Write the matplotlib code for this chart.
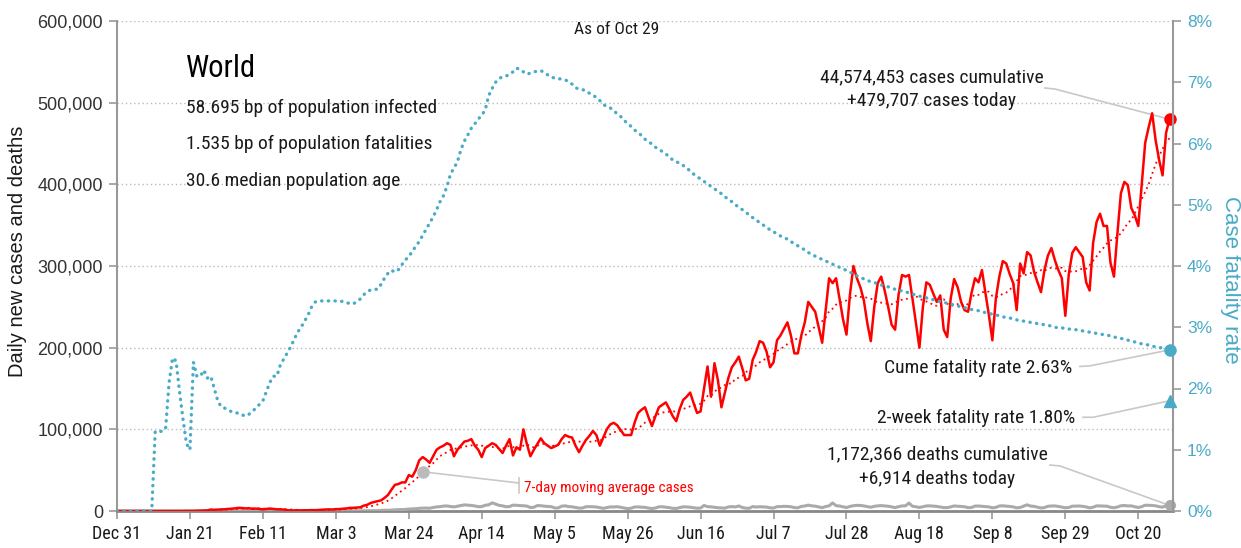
import numpy as np
import pandas as pd
import matplotlib
matplotlib.use('Agg')
import matplotlib.pyplot as plt
from matplotlib import font_manager

# daily new cases, thousands, one row per week starting Dec 31 2019
cases_k = [
    0.027, 0, 0, 0.017, 0, 0.015, 0,
    0, 0, 0, 0, 0.001, 0, 0.001,
    0, 0.005, 0.004, 0.017, 0.136, 0.019, 0.151,
    0.14, 0.097, 0.259, 0.457, 0.688, 0.769, 1.771,
    1.459, 1.737, 1.982, 2.102, 2.59, 2.829, 3.235,
    3.884, 3.694, 3.143, 3.385, 2.652, 2.973, 2.467,
    2.015, 2.5, 3.0, 2.6, 2.1, 2.0, 1.8,
    1.0, 0.6, 0.8, 0.9, 0.6, 0.9, 0.9,
    1.1, 1.0, 1.3, 1.5, 1.8, 2.0, 1.8,
    2.3, 2.4, 2.7, 3.1, 3.8, 3.9, 4.2,
    4.5, 6.5, 7.5, 9.8, 11, 12, 13,
    16, 19.6, 26, 32, 33, 35, 35,
    44, 42, 50, 62, 66, 63, 59,
    67, 75, 78, 80, 83, 81, 67,
    75, 80, 85, 86, 88, 80, 75,
    66, 77, 80, 83, 81, 76, 71,
    80, 88, 68, 78, 75, 100, 82,
    67, 75, 82, 89, 83, 80, 77,
    79, 81, 88, 93, 91, 90, 80,
    72, 80, 87, 92, 98, 93, 80,
    90, 100, 106, 108, 105, 99, 93,
    93, 93, 108, 120, 124, 127, 115,
    104, 116, 127, 130, 133, 125, 116,
    110, 125, 136, 140, 145, 132, 120,
    122, 150, 177, 140, 181, 160, 127,
    145, 163, 176, 182, 189, 175, 160,
    162, 185, 195, 208, 206, 195, 176,
    182, 209, 215, 223, 231, 215, 193,
    193, 215, 231, 256, 250, 244, 225,
    206, 245, 285, 279, 285, 260, 235,
    216, 265, 300, 285, 274, 258, 230,
    208, 250, 279, 287, 270, 250, 228,
    222, 265, 289, 287, 289, 260, 230,
    200, 250, 280, 277, 266, 256, 264,
    222, 213, 260, 284, 274, 256, 246,
    244, 267, 285, 280, 295, 267, 240,
    209, 260, 287, 306, 303, 290, 279,
    246, 303, 291, 317, 313, 293, 280,
    268, 295, 313, 322, 307, 295, 285,
    239, 290, 316, 323, 317, 311, 280,
    270, 328, 354, 364, 349, 349, 304,
    287, 340, 389, 403, 399, 371, 362,
    349, 400, 451, 470, 487, 454, 430,
    411, 463, 479.707,
]

# daily new deaths, thousands
deaths_k = [
    0, 0, 0, 0, 0, 0, 0,
    0, 0, 0, 0, 0.001, 0, 0,
    0, 0, 0.001, 0, 0.001, 0, 0.003,
    0.003, 0.008, 0.016, 0.015, 0.015, 0.024, 0.026,
    0.026, 0.038, 0.043, 0.046, 0.045, 0.057, 0.064,
    0.066, 0.073, 0.073, 0.086, 0.089, 0.097, 0.108,
    0.097, 0.254, 0.143, 0.142, 0.106, 0.098, 0.139,
    0.115, 0.118, 0.109, 0.097, 0.15, 0.071, 0.052,
    0.029, 0.044, 0.037, 0.035, 0.058, 0.067, 0.072,
    0.066, 0.07, 0.087, 0.1, 0.102, 0.097, 0.227,
    0.247, 0.322, 0.325, 0.35, 0.45, 0.41, 0.75,
    0.92, 0.85, 1.1, 1.3, 1.65, 1.7, 1.9,
    2.4, 2.6, 2.8, 3.3, 3.5, 3.6, 3.4,
    4.3, 5.0, 5.3, 6.0, 6.2, 5.5, 5.0,
    5.8, 6.5, 7.5, 7.2, 6.8, 6.2, 5.3,
    5.4, 7.0, 7.6, 10.0, 8.4, 6.9, 6.3,
    5.2, 5.5, 7.2, 7.0, 6.6, 6.4, 6.0,
    4.2, 4.6, 6.6, 6.5, 5.9, 5.6, 5.3,
    3.8, 3.7, 5.9, 6.3, 5.4, 5.1, 4.3,
    3.6, 3.7, 5.2, 5.3, 5.2, 4.9, 4.1,
    3.3, 4.2, 5.0, 4.9, 5.3, 4.5, 3.6,
    2.9, 3.4, 4.9, 5.0, 4.7, 4.4, 3.6,
    3.0, 3.7, 5.1, 5.2, 4.7, 4.1, 3.3,
    3.1, 4.2, 5.1, 5.0, 4.6, 4.0, 3.4,
    3.6, 6.8, 5.3, 5.1, 4.5, 4.0, 3.7,
    3.5, 5.0, 5.4, 4.9, 6.2, 4.3, 3.5,
    3.3, 5.4, 4.9, 5.2, 5.0, 4.8, 3.9,
    3.6, 5.3, 5.4, 5.7, 5.6, 5.2, 4.1,
    3.9, 5.6, 6.1, 7.2, 6.3, 5.9, 5.0,
    4.1, 5.4, 6.3, 9.9, 6.5, 6.1, 5.2,
    4.2, 5.6, 6.5, 6.9, 6.8, 6.2, 5.4,
    4.6, 5.7, 6.3, 6.6, 6.2, 5.8, 5.1,
    4.1, 5.3, 6.2, 6.4, 9.7, 5.8, 5.2,
    4.3, 5.2, 6.2, 6.3, 6.0, 5.6, 4.9,
    4.2, 4.1, 5.0, 6.2, 5.8, 5.6, 5.2,
    4.1, 4.3, 6.0, 6.1, 5.8, 5.4, 5.0,
    3.9, 4.4, 6.1, 6.4, 5.9, 5.6, 5.0,
    3.9, 4.3, 6.0, 7.6, 6.0, 5.7, 4.6,
    3.7, 4.2, 5.8, 6.1, 6.2, 5.6, 4.8,
    3.9, 4.3, 5.9, 6.0, 6.1, 5.7, 5.0,
    3.8, 4.6, 6.3, 6.2, 6.1, 5.9, 4.5,
    4.0, 4.9, 6.4, 6.7, 6.2, 6.3, 5.2,
    4.3, 5.3, 7.1, 6.9, 6.8, 6.3, 5.3,
    4.7, 6.6, 6.914,
]

# cumulative case fatality rate, percent
cfr_pct = [
    0, 0, 0, 0, 0, 0, 0,
    0, 0, 0, 0, 1.3, 1.3, 1.3,
    1.35, 2.1, 2.5, 2.45, 1.95, 1.5, 1.1,
    1.0, 2.43, 2.2, 2.2, 2.3, 2.17, 2.2,
    2.0, 1.8, 1.7, 1.68, 1.65, 1.62, 1.6,
    1.6, 1.57, 1.55, 1.58, 1.63, 1.68, 1.74,
    1.8, 1.95, 2.1, 2.2, 2.2, 2.38, 2.48,
    2.58, 2.68, 2.8, 2.92, 3.0, 3.1, 3.2,
    3.33, 3.41, 3.43, 3.43, 3.43, 3.43, 3.43,
    3.43, 3.43, 3.42, 3.4, 3.39, 3.38, 3.42,
    3.46, 3.53, 3.58, 3.61, 3.62, 3.62, 3.7,
    3.8, 3.88, 3.93, 3.9, 3.94, 4.02, 4.1,
    4.15, 4.24, 4.32, 4.4, 4.5, 4.6, 4.7,
    4.8, 4.92, 5.05, 5.15, 5.3, 5.5, 5.6,
    5.7, 5.9, 6.04, 6.14, 6.25, 6.32, 6.4,
    6.46, 6.55, 6.78, 6.9, 7.0, 7.06, 7.09,
    7.1, 7.13, 7.17, 7.23, 7.21, 7.17, 7.13,
    7.15, 7.17, 7.18, 7.19, 7.16, 7.12, 7.08,
    7.07, 7.06, 7.05, 7.04, 7.01, 6.97, 6.91,
    6.89, 6.88, 6.86, 6.82, 6.79, 6.75, 6.7,
    6.64, 6.6, 6.58, 6.54, 6.48, 6.44, 6.38,
    6.32, 6.28, 6.22, 6.18, 6.13, 6.07, 6.03,
    5.99, 5.94, 5.9, 5.87, 5.83, 5.78, 5.73,
    5.7, 5.68, 5.64, 5.6, 5.55, 5.5, 5.46,
    5.42, 5.38, 5.34, 5.3, 5.26, 5.22, 5.18,
    5.13, 5.09, 5.05, 5.0, 4.96, 4.92, 4.88,
    4.83, 4.79, 4.75, 4.71, 4.67, 4.63, 4.59,
    4.56, 4.52, 4.49, 4.46, 4.44, 4.4, 4.36,
    4.33, 4.3, 4.26, 4.22, 4.19, 4.16, 4.13,
    4.11, 4.08, 4.06, 4.03, 4.0, 3.98, 3.95,
    3.93, 3.9, 3.87, 3.84, 3.81, 3.79, 3.77,
    3.74, 3.73, 3.71, 3.69, 3.67, 3.66, 3.64,
    3.62, 3.61, 3.59, 3.58, 3.56, 3.54, 3.53,
    3.51, 3.49, 3.48, 3.46, 3.45, 3.43, 3.42,
    3.41, 3.39, 3.38, 3.36, 3.35, 3.33, 3.32,
    3.31, 3.29, 3.28, 3.27, 3.25, 3.24, 3.23,
    3.21, 3.2, 3.19, 3.17, 3.16, 3.15, 3.14,
    3.12, 3.11, 3.1, 3.09, 3.08, 3.07, 3.06,
    3.05, 3.04, 3.03, 3.02, 3.0, 2.99, 2.99,
    2.98, 2.97, 2.97, 2.96, 2.95, 2.94, 2.93,
    2.92, 2.91, 2.9, 2.89, 2.88, 2.87, 2.86,
    2.84, 2.83, 2.82, 2.8, 2.79, 2.77, 2.76,
    2.74, 2.73, 2.72, 2.71, 2.69, 2.68, 2.67,
    2.66, 2.64, 2.63,
]

two_week_cfr = 1.80
cases_cumulative = 44574453
deaths_cumulative = 1172366
tick_days = [0, 21, 42, 63, 84, 105, 126, 147, 168, 189, 210, 231, 252, 273, 294]
start_date = pd.Timestamp('2019-12-31')

title = "World"
stats = ["58.695 bp of population infected",
         "1.535 bp of population fatalities",
         "30.6 median population age"]

RED = '#ff0000'
BLUE = '#4aabc6'
GRAY = '#aaaaaa'

installed = {f.name for f in font_manager.fontManager.ttflist}
if 'Roboto Condensed' in installed:
    NARROW, k = ['Roboto Condensed', 'DejaVu Sans'], 1.0
elif 'Liberation Sans Narrow' in installed:
    NARROW, k = ['Liberation Sans Narrow', 'DejaVu Sans'], 1.0
else:
    NARROW, k = ['Liberation Sans', 'DejaVu Sans'], 0.84
REG = ['Liberation Sans', 'DejaVu Sans']


def plot_data():
    days = np.arange(len(cases_k))
    cases = np.array(cases_k) * 1000
    deaths = np.array(deaths_k) * 1000
    cfr = np.array(cfr_pct)
    ma7 = pd.Series(cases).rolling(7, min_periods=1).mean().values

    fig = plt.figure(figsize=(12.41, 5.48), dpi=100)
    ax = fig.add_axes([117/1241, 37/548, 1056/1241, 490/548])
    ax2 = ax.twinx()

    ax.plot(days, deaths, color=GRAY, lw=2.2, zorder=3)
    ax.plot(days, ma7, color=RED, lw=1.3, ls=(0, (1, 2)), zorder=3)
    ax.plot(days, cases, color=RED, lw=1.8, zorder=4)
    ax2.plot(days, cfr, color=BLUE, lw=2.4, ls=(0, (0.1, 1.9)),
             dash_capstyle='round', zorder=3)

    last = days[-1]
    ax.plot([last], [cases[-1]], 'o', color=RED, ms=8, clip_on=False, zorder=6)
    ax.plot([last], [deaths[-1]], 'o', color=GRAY, ms=7, clip_on=False, zorder=6)
    ax.plot([88], [ma7[88]], 'o', color='#bbbbbb', ms=8, zorder=6)
    ax2.plot([last], [cfr[-1]], 'o', color=BLUE, ms=8, clip_on=False, zorder=6)
    ax2.plot([last], [two_week_cfr], '^', color=BLUE, ms=8, clip_on=False, zorder=6)

    # leader lines from the labels to the markers
    lc = dict(color='#c8c8c8', lw=1.2, clip_on=False, zorder=2)
    ax.plot([267.1, 270.0, last], [518000, 516700, cases[-1]], **lc)
    ax.plot([268.6, 271.5, last], [56300, 55100, deaths[-1]], **lc)
    ax.plot([88.4, 115.7], [47800, 34300], **lc)
    ax.plot([115.7, 115.7], [40400, 22000], **lc)
    ax2.plot([277.2, 280.1, last], [2.36, 2.37, cfr[-1]], **lc)
    ax2.plot([278.1, 281.0, last], [1.53, 1.53, two_week_cfr], **lc)

    tc = '#1a1a1a'
    fs = 14 * k
    ax.text(19.9, 542000, title, fontsize=22 * k, family=NARROW, color='black',
            va='center', ha='left')
    for s, yv in zip(stats, [493500, 449400, 404000]):
        ax.text(19.9, yv, s, fontsize=fs, family=NARROW, color=tc,
                va='center', ha='left')
    ax.text(143.9, 589000, "As of Oct 29", fontsize=12.5 * k, family=NARROW,
            color=tc, va='center', ha='center')
    ax.text(234.6, 531400, f"{cases_cumulative:,} cases cumulative", fontsize=fs,
            family=NARROW, color=tc, va='center', ha='center')
    ax.text(234.6, 502000, f"+{int(round(cases[-1])):,} cases today", fontsize=fs,
            family=NARROW, color=tc, va='center', ha='center')
    ax.text(236.1, 69800, f"{deaths_cumulative:,} deaths cumulative", fontsize=fs,
            family=NARROW, color=tc, va='center', ha='center')
    ax.text(236.1, 39200, f"+{int(round(deaths[-1])):,} deaths today", fontsize=fs,
            family=NARROW, color=tc, va='center', ha='center')
    ax2.text(274.9, 2.335, f"Cume fatality rate {cfr[-1]:.2f}%", fontsize=fs,
             family=NARROW, color=tc, va='center', ha='right')
    ax2.text(275.8, 1.52, f"2-week fatality rate {two_week_cfr:.2f}%", fontsize=fs,
             family=NARROW, color=tc, va='center', ha='right')
    ax.text(117.2, 28200, "7-day moving average cases", fontsize=11 * k,
            family=NARROW, color=RED, va='center', ha='left')

    ax.set_xlim(0, 304)
    ax.set_ylim(0, 600000)
    ax2.set_ylim(0, 8)
    ax.set_xticks(tick_days)
    ax.set_xticklabels([f"{d:%b} {d.day}" for d in
                        (start_date + pd.to_timedelta(tick_days, unit='D'))],
                       family=NARROW, fontsize=13 * k, color=tc)
    yt = np.arange(0, 600001, 100000)
    ax.set_yticks(yt)
    ax.set_yticklabels([f"{v:,}" for v in yt], family=REG, fontsize=13, color='#333333')
    pt = np.arange(0, 9)
    ax2.set_yticks(pt)
    ax2.set_yticklabels([f"{v}%" for v in pt], family=REG, fontsize=12.5, color=BLUE)

    ax.yaxis.grid(True, ls=(0, (1, 2)), color='#bbbbbb', lw=1)
    ax.set_axisbelow(True)
    for a in (ax, ax2):
        a.spines['top'].set_visible(False)
    ax.spines['right'].set_visible(False)
    ax2.spines['left'].set_visible(False)
    ax2.spines['bottom'].set_visible(False)
    ax.spines['left'].set_color('#999999')
    ax.spines['left'].set_linewidth(1.5)
    ax2.spines['right'].set_color('#999999')
    ax2.spines['right'].set_linewidth(1.5)
    ax.spines['bottom'].set_color('#888888')
    ax.spines['bottom'].set_linewidth(2)
    ax.tick_params(axis='both', direction='out', length=6, width=1.2, color='#999999', pad=4)
    ax2.tick_params(axis='y', direction='out', length=6, width=1.2, color='#999999', pad=4)

    ax.set_ylabel("Daily new cases and deaths", family=REG, fontsize=14.5, color=tc,
                  va='center')
    ax.yaxis.set_label_coords(-0.094, 0.529)
    ax2.set_ylabel("Case fatality rate", family=REG, fontsize=16, color=BLUE,
                   rotation=270, va='center')
    ax2.yaxis.set_label_coords(1.054, 0.471)

    fig.savefig("out.png", dpi=100)


plot_data()
